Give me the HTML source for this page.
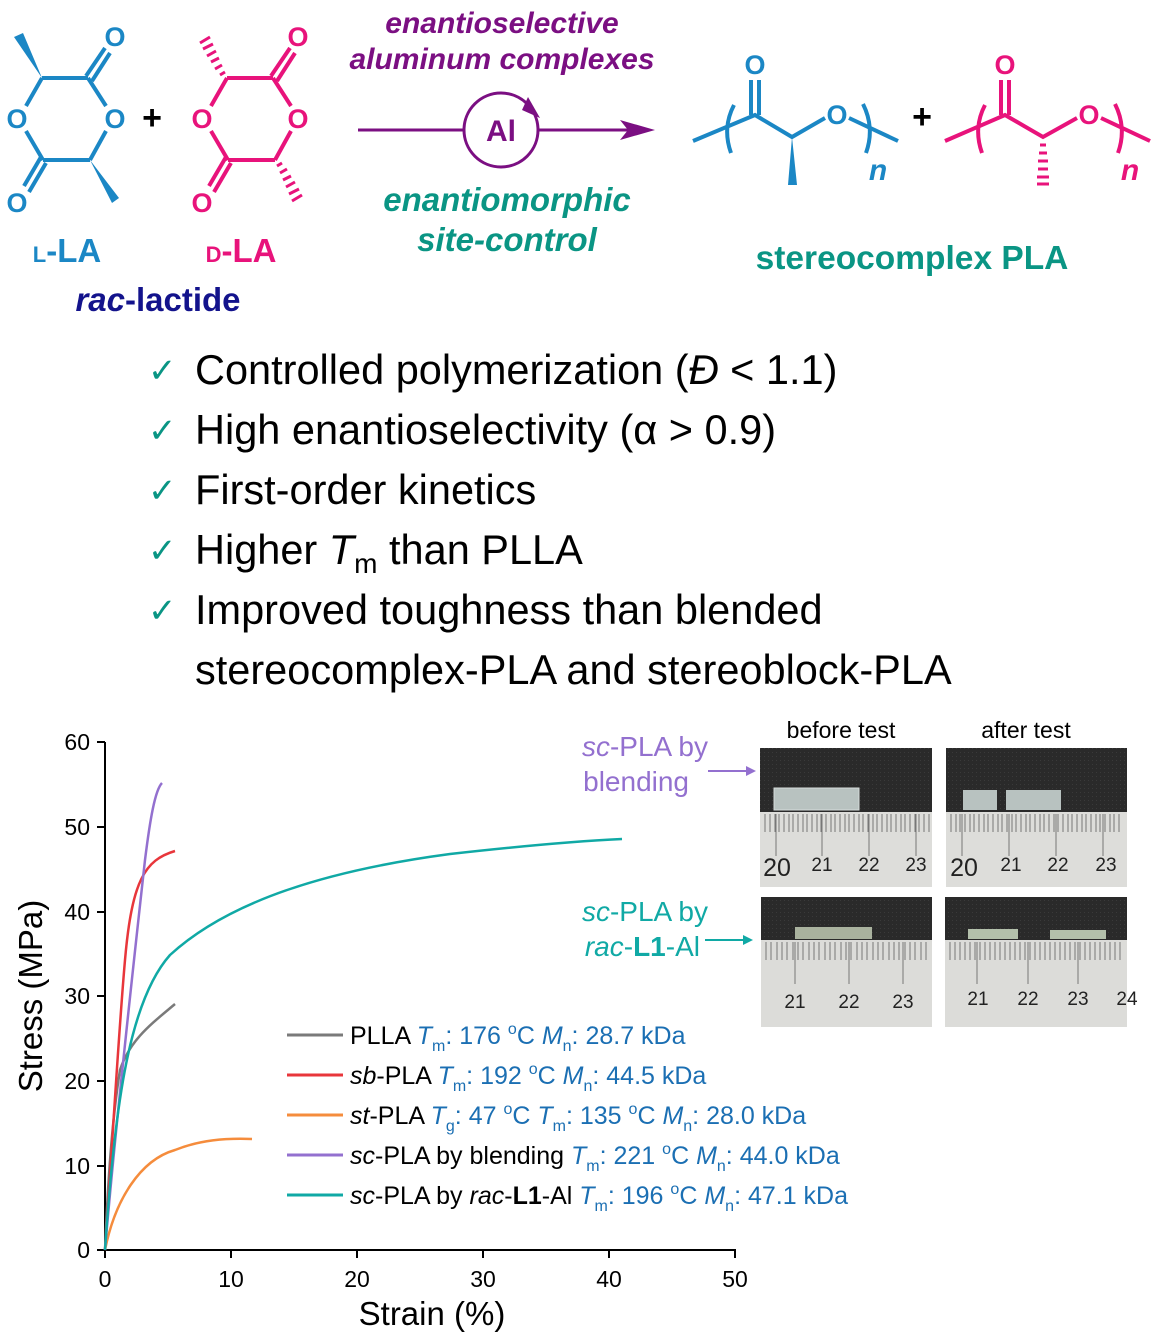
<!DOCTYPE html>
<html><head><meta charset="utf-8"><style>
html,body{margin:0;padding:0;background:#fff}
svg{display:block}
text{font-family:"Liberation Sans",sans-serif}
</style></head><body>
<svg width="1158" height="1333" viewBox="0 0 1158 1333" xmlns="http://www.w3.org/2000/svg">
<defs>
<pattern id="dark" width="4" height="4" patternUnits="userSpaceOnUse"><rect width="4" height="4" fill="#2a2a2a"/><rect width="1" height="1" fill="#3a3a3a"/></pattern>
</defs>
<!-- L-LA -->
<g stroke="#1b87c5" stroke-width="4" fill="none">
<line x1="42" y1="78" x2="88" y2="78"/><line x1="88" y1="78" x2="106" y2="106"/>
<line x1="106" y1="131" x2="90" y2="160"/><line x1="90" y1="160" x2="43" y2="160"/>
<line x1="43" y1="160" x2="26" y2="131"/><line x1="26" y1="106" x2="42" y2="78"/>
<line x1="86" y1="76" x2="105" y2="48"/><line x1="92" y1="81" x2="110" y2="53"/>
<line x1="41" y1="157" x2="24" y2="186"/><line x1="46" y1="163" x2="29" y2="192"/>
</g>
<polygon points="42,78 14,37 23,33" fill="#1b87c5"/>
<polygon points="90,160 112,203 119,198" fill="#1b87c5"/>
<g fill="#1b87c5" font-size="27" text-anchor="middle" font-weight="bold">
<text x="17" y="128">O</text><text x="115" y="128">O</text><text x="115" y="46">O</text><text x="17" y="212">O</text>
</g>
<text x="152" y="129" font-size="34" font-weight="bold" text-anchor="middle">+</text>
<!-- D-LA -->
<g stroke="#e8137b" stroke-width="4" fill="none">
<line x1="227" y1="78" x2="273" y2="78"/><line x1="273" y1="78" x2="291" y2="106"/>
<line x1="291" y1="131" x2="275" y2="160"/><line x1="275" y1="160" x2="228" y2="160"/>
<line x1="228" y1="160" x2="211" y2="131"/><line x1="211" y1="106" x2="227" y2="78"/>
<line x1="271" y1="76" x2="290" y2="48"/><line x1="277" y1="81" x2="295" y2="53"/>
<line x1="226" y1="157" x2="209" y2="186"/><line x1="231" y1="163" x2="214" y2="192"/>
<path d="M225 72 l-5 3 M222 65 l-7 4 M219 58 l-8 4 M216 51 l-9 5 M213 44 l-10 5 M210 37 l-10 6" stroke-width="3"/>
<path d="M277 166 l5 -3 M280 173 l7 -4 M283 180 l8 -4 M286 187 l9 -5 M289 194 l10 -5 M292 201 l10 -6" stroke-width="3"/>
</g>
<g fill="#e8137b" font-size="27" text-anchor="middle" font-weight="bold">
<text x="202" y="128">O</text><text x="298" y="128">O</text><text x="298" y="46">O</text><text x="202" y="212">O</text>
</g>
<text x="67" y="262" font-size="33" font-weight="bold" fill="#1b87c5" text-anchor="middle"><tspan font-size="22">L</tspan>-LA</text>
<text x="241" y="262" font-size="33" font-weight="bold" fill="#e8137b" text-anchor="middle"><tspan font-size="22">D</tspan>-LA</text>
<text x="158" y="311" font-size="33" font-weight="bold" fill="#13138c" text-anchor="middle"><tspan font-style="italic">rac</tspan>-lactide</text>
<!-- arrow -->
<g fill="#7b0f82" font-size="30" font-weight="bold" font-style="italic" text-anchor="middle">
<text x="502" y="33">enantioselective</text><text x="502" y="69">aluminum complexes</text>
</g>
<line x1="358" y1="130" x2="465" y2="130" stroke="#7b0f82" stroke-width="3"/>
<line x1="538" y1="130" x2="630" y2="130" stroke="#7b0f82" stroke-width="3"/>
<polygon points="655,130 620,120 628,130 620,140" fill="#7b0f82"/>
<circle cx="501" cy="130" r="37" fill="none" stroke="#7b0f82" stroke-width="3"/>
<polygon points="540,118 528,97 522,110" fill="#7b0f82"/>
<text x="501" y="141" font-size="30" font-weight="bold" fill="#7b0f82" text-anchor="middle">Al</text>
<g fill="#0a9584" font-size="33" font-weight="bold" font-style="italic" text-anchor="middle">
<text x="507" y="211">enantiomorphic</text><text x="507" y="251">site-control</text>
</g>
<!-- polymers -->
<g stroke="#1b87c5" stroke-width="4" fill="none">
<polyline points="693,141 755,115 792,137 825,118"/>
<line x1="849" y1="118" x2="898" y2="141"/>
<line x1="751" y1="115" x2="751" y2="80"/><line x1="759" y1="115" x2="759" y2="80"/>
<path d="M734 105 Q722 128 731 153"/><path d="M863 104 Q875 128 866 153"/>
</g>
<polygon points="792,137 788,185 797,185" fill="#1b87c5"/>
<text x="755" y="74" font-size="27" font-weight="bold" fill="#1b87c5" text-anchor="middle">O</text>
<text x="837" y="124" font-size="27" font-weight="bold" fill="#1b87c5" text-anchor="middle">O</text>
<text x="878" y="180" font-size="30" font-weight="bold" font-style="italic" fill="#1b87c5" text-anchor="middle">n</text>
<text x="922" y="128" font-size="34" font-weight="bold" text-anchor="middle">+</text>
<g stroke="#e8137b" stroke-width="4" fill="none">
<polyline points="945,141 1005,115 1043,137 1077,118"/>
<line x1="1101" y1="118" x2="1150" y2="141"/>
<line x1="1001" y1="115" x2="1001" y2="80"/><line x1="1009" y1="115" x2="1009" y2="80"/>
<path d="M985 105 Q973 128 982 153"/><path d="M1115 104 Q1127 128 1118 153"/>
<path d="M1040 145h6M1039 153h8M1038 161h10M1038 169h10M1037 177h12M1037 184h12" stroke-width="3"/>
</g>
<text x="1005" y="74" font-size="27" font-weight="bold" fill="#e8137b" text-anchor="middle">O</text>
<text x="1089" y="124" font-size="27" font-weight="bold" fill="#e8137b" text-anchor="middle">O</text>
<text x="1130" y="180" font-size="30" font-weight="bold" font-style="italic" fill="#e8137b" text-anchor="middle">n</text>
<text x="912" y="269" font-size="33.5" font-weight="bold" fill="#0a9584" text-anchor="middle">stereocomplex PLA</text>
<!-- checklist -->
<g fill="#0a9584" font-size="34"><text x="148" y="382">✓</text><text x="148" y="442">✓</text><text x="148" y="502">✓</text><text x="148" y="562">✓</text><text x="148" y="622">✓</text></g>
<g font-size="41.5" fill="#000">
<text x="195" y="384">Controlled polymerization (<tspan font-style="italic">Đ</tspan> &lt; 1.1)</text>
<text x="195" y="444">High enantioselectivity (α &gt; 0.9)</text>
<text x="195" y="504">First-order kinetics</text>
<text x="195" y="564">Higher <tspan font-style="italic">T</tspan><tspan font-size="28" dy="9">m</tspan><tspan dy="-9"> than PLLA</tspan></text>
<text x="195" y="624">Improved toughness than blended</text>
<text x="195" y="684">stereocomplex-PLA and stereoblock-PLA</text>
</g>
<!-- chart axes -->
<g stroke="#000" stroke-width="2">
<line x1="105" y1="742" x2="105" y2="1251"/><line x1="104" y1="1250" x2="736" y2="1250"/>
<path d="M97 742h8M97 827h8M97 912h8M97 996h8M97 1081h8M97 1166h8M97 1250h8"/>
<path d="M105 1250v8M231 1250v8M357 1250v8M483 1250v8M609 1250v8M735 1250v8"/>
</g>
<g font-size="23" text-anchor="end"><text x="90" y="750">60</text><text x="90" y="835">50</text><text x="90" y="920">40</text><text x="90" y="1004">30</text><text x="90" y="1089">20</text><text x="90" y="1174">10</text><text x="90" y="1258">0</text></g>
<g font-size="23" text-anchor="middle"><text x="105" y="1287">0</text><text x="231" y="1287">10</text><text x="357" y="1287">20</text><text x="483" y="1287">30</text><text x="609" y="1287">40</text><text x="735" y="1287">50</text></g>
<text x="432" y="1325" font-size="33" text-anchor="middle">Strain (%)</text>
<text transform="translate(42,996) rotate(-90)" font-size="33" text-anchor="middle">Stress (MPa)</text>
<!-- curves -->
<g fill="none" stroke-width="2.5">
<path d="M105 1250 C108 1180 112 1120 120 1070 C130 1040 150 1025 175 1004" stroke="#7a7a7a"/>
<path d="M105 1250 C112 1150 118 1040 125 960 C132 880 145 860 175 851" stroke="#e8363b"/>
<path d="M105 1250 C115 1200 140 1160 175 1150 C200 1140 225 1138 252 1139" stroke="#f58c3c"/>
<path d="M105 1250 C115 1130 135 950 145 860 C150 820 155 790 162 783" stroke="#9370cf"/>
<path d="M105 1250 C115 1100 130 1000 170 955 C230 900 330 870 450 854 C530 845 580 841 622 839" stroke="#10a9a5"/>
</g>
<!-- legend -->
<g stroke-width="3"><line x1="287" y1="1035" x2="343" y2="1035" stroke="#7a7a7a"/><line x1="287" y1="1075" x2="343" y2="1075" stroke="#e8363b"/><line x1="287" y1="1115" x2="343" y2="1115" stroke="#f58c3c"/><line x1="287" y1="1155" x2="343" y2="1155" stroke="#9370cf"/><line x1="287" y1="1195" x2="343" y2="1195" stroke="#10a9a5"/></g>
<g font-size="25">
<text x="350" y="1044">PLLA <tspan fill="#1b6fb3"><tspan font-style="italic">T</tspan><tspan font-size="16" dy="7">m</tspan><tspan dy="-7">: 176 </tspan><tspan font-size="16" dy="-10">o</tspan><tspan dy="10">C </tspan><tspan font-style="italic">M</tspan><tspan font-size="16" dy="7">n</tspan><tspan dy="-7">: 28.7 kDa</tspan></tspan></text>
<text x="350" y="1084"><tspan font-style="italic">sb</tspan>-PLA <tspan fill="#1b6fb3"><tspan font-style="italic">T</tspan><tspan font-size="16" dy="7">m</tspan><tspan dy="-7">: 192 </tspan><tspan font-size="16" dy="-10">o</tspan><tspan dy="10">C </tspan><tspan font-style="italic">M</tspan><tspan font-size="16" dy="7">n</tspan><tspan dy="-7">: 44.5 kDa</tspan></tspan></text>
<text x="350" y="1124"><tspan font-style="italic">st</tspan>-PLA <tspan fill="#1b6fb3"><tspan font-style="italic">T</tspan><tspan font-size="16" dy="7">g</tspan><tspan dy="-7">: 47 </tspan><tspan font-size="16" dy="-10">o</tspan><tspan dy="10">C </tspan><tspan font-style="italic">T</tspan><tspan font-size="16" dy="7">m</tspan><tspan dy="-7">: 135 </tspan><tspan font-size="16" dy="-10">o</tspan><tspan dy="10">C </tspan><tspan font-style="italic">M</tspan><tspan font-size="16" dy="7">n</tspan><tspan dy="-7">: 28.0 kDa</tspan></tspan></text>
<text x="350" y="1164"><tspan font-style="italic">sc</tspan>-PLA by blending <tspan fill="#1b6fb3"><tspan font-style="italic">T</tspan><tspan font-size="16" dy="7">m</tspan><tspan dy="-7">: 221 </tspan><tspan font-size="16" dy="-10">o</tspan><tspan dy="10">C </tspan><tspan font-style="italic">M</tspan><tspan font-size="16" dy="7">n</tspan><tspan dy="-7">: 44.0 kDa</tspan></tspan></text>
<text x="350" y="1204"><tspan font-style="italic">sc</tspan>-PLA by <tspan font-style="italic">rac</tspan>-<tspan font-weight="bold">L1</tspan>-Al <tspan fill="#1b6fb3"><tspan font-style="italic">T</tspan><tspan font-size="16" dy="7">m</tspan><tspan dy="-7">: 196 </tspan><tspan font-size="16" dy="-10">o</tspan><tspan dy="10">C </tspan><tspan font-style="italic">M</tspan><tspan font-size="16" dy="7">n</tspan><tspan dy="-7">: 47.1 kDa</tspan></tspan></text>
</g>
<!-- photo labels -->
<g font-size="28" text-anchor="end">
<text x="708" y="756" fill="#9370cf"><tspan font-style="italic">sc</tspan>-PLA by</text>
<text x="689" y="791" fill="#9370cf">blending</text>
<text x="708" y="921" fill="#10a9a5"><tspan font-style="italic">sc</tspan>-PLA by</text>
<text x="700" y="956" fill="#10a9a5"><tspan font-style="italic">rac</tspan>-<tspan font-weight="bold">L1</tspan>-Al</text>
</g>
<line x1="708" y1="771" x2="748" y2="771" stroke="#9370cf" stroke-width="2"/><polygon points="756,771 746,766 746,776" fill="#9370cf"/>
<line x1="705" y1="940" x2="745" y2="940" stroke="#10a9a5" stroke-width="2"/><polygon points="753,940 743,935 743,945" fill="#10a9a5"/>
<text x="841" y="738" font-size="23" text-anchor="middle">before test</text>
<text x="1026" y="738" font-size="23" text-anchor="middle">after test</text>
<!-- photos -->
<g>
<rect x="760" y="748" width="172" height="139" fill="#ddddda"/><rect x="760" y="748" width="172" height="64" fill="url(#dark)"/>
<rect x="774" y="788" width="85" height="22" fill="#b8c2c0" stroke="#d6dcdb"/>
<rect x="946" y="748" width="181" height="139" fill="#ddddda"/><rect x="946" y="748" width="181" height="64" fill="url(#dark)"/>
<rect x="963" y="790" width="34" height="20" fill="#b8c2c0"/><rect x="1006" y="790" width="55" height="20" fill="#b8c2c0"/>
<rect x="761" y="897" width="171" height="130" fill="#dcdcd9"/><rect x="761" y="897" width="171" height="43" fill="url(#dark)"/>
<rect x="795" y="927" width="77" height="12" fill="#a9b29e"/>
<rect x="945" y="897" width="182" height="130" fill="#dcdcd9"/><rect x="945" y="897" width="182" height="43" fill="url(#dark)"/>
<rect x="968" y="929" width="50" height="10" fill="#b3c0ab"/><rect x="1050" y="930" width="56" height="9" fill="#b3c0ab"/>
<g stroke="#777" stroke-width="1">
<path d="M765 814v18M770 814v18M775 814v18M779 814v18M784 814v18M789 814v18M793 814v18M798 814v18M803 814v18M807 814v18M812 814v18M817 814v18M821 814v18M826 814v18M831 814v18M835 814v18M840 814v18M845 814v18M849 814v18M854 814v18M859 814v18M863 814v18M868 814v18M873 814v18M877 814v18M882 814v18M887 814v18M891 814v18M896 814v18M901 814v18M905 814v18M910 814v18M915 814v18M919 814v18M924 814v18M929 814v18"/>
<path d="M776 814v42M822 814v42M869 814v42M916 814v42"/>
<path d="M951 814v18M956 814v18M960 814v18M965 814v18M970 814v18M974 814v18M979 814v18M984 814v18M988 814v18M993 814v18M998 814v18M1002 814v18M1007 814v18M1012 814v18M1016 814v18M1021 814v18M1026 814v18M1030 814v18M1035 814v18M1040 814v18M1044 814v18M1049 814v18M1054 814v18M1058 814v18M1063 814v18M1068 814v18M1072 814v18M1077 814v18M1082 814v18M1086 814v18M1091 814v18M1096 814v18M1100 814v18M1105 814v18M1110 814v18M1114 814v18M1119 814v18"/>
<path d="M962 814v42M1009 814v42M1056 814v42M1103 814v42"/>
<path d="M766 942v18M771 942v18M777 942v18M782 942v18M787 942v18M793 942v18M798 942v18M803 942v18M809 942v18M814 942v18M819 942v18M825 942v18M830 942v18M835 942v18M841 942v18M846 942v18M851 942v18M857 942v18M862 942v18M867 942v18M873 942v18M878 942v18M883 942v18M889 942v18M894 942v18M899 942v18M905 942v18M910 942v18M915 942v18M921 942v18M926 942v18"/>
<path d="M795 942v42M849 942v42M903 942v42"/>
<path d="M950 942v18M955 942v18M960 942v18M965 942v18M970 942v18M975 942v18M980 942v18M985 942v18M990 942v18M995 942v18M1000 942v18M1005 942v18M1010 942v18M1015 942v18M1020 942v18M1025 942v18M1030 942v18M1035 942v18M1040 942v18M1045 942v18M1050 942v18M1055 942v18M1060 942v18M1065 942v18M1070 942v18M1075 942v18M1080 942v18M1085 942v18M1090 942v18M1095 942v18M1100 942v18M1105 942v18M1110 942v18M1115 942v18M1120 942v18"/>
<path d="M977 942v42M1028 942v42M1078 942v42"/>
</g>
<g font-size="19" fill="#222" text-anchor="middle">
<text x="777" y="876" font-size="25">20</text><text x="822" y="871">21</text><text x="869" y="871">22</text><text x="916" y="871">23</text>
<text x="964" y="876" font-size="25">20</text><text x="1011" y="871">21</text><text x="1058" y="871">22</text><text x="1106" y="871">23</text>
<text x="795" y="1008">21</text><text x="849" y="1008">22</text><text x="903" y="1008">23</text>
<text x="978" y="1005">21</text><text x="1028" y="1005">22</text><text x="1078" y="1005">23</text><text x="1127" y="1005">24</text>
</g>
</g>
</svg>
</body></html>
